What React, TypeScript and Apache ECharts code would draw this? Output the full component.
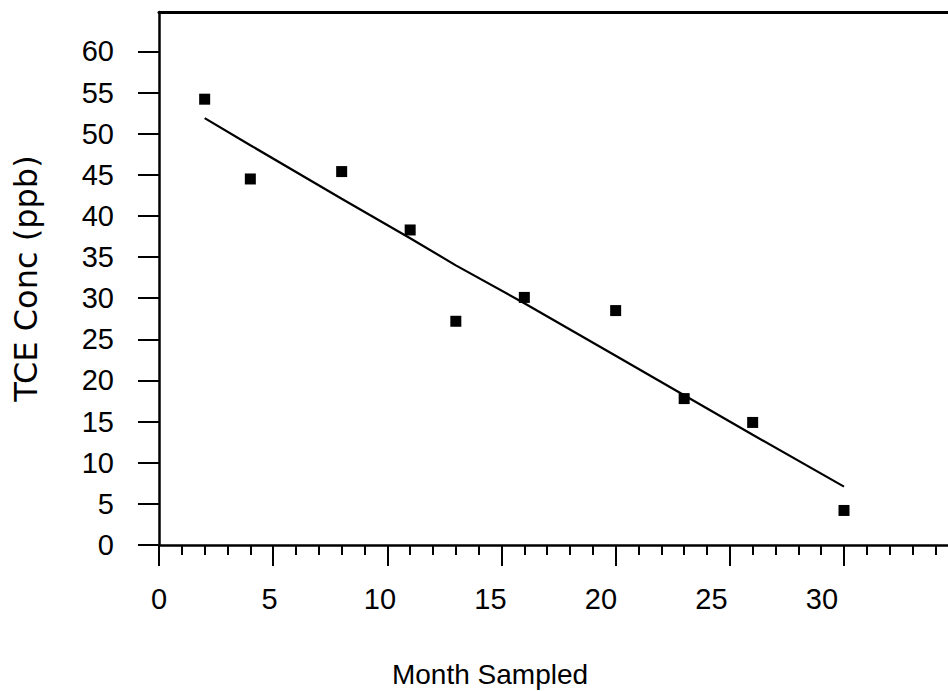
import React, { useEffect, useRef } from "react";
import * as echarts from "echarts";

// Months at which groundwater was sampled
const monthSampled = [2, 4, 8, 11, 13, 16, 20, 23, 26, 30];
// Measured TCE concentration (ppb) at each sampling month
const tceConc = [54.2, 44.5, 45.4, 38.3, 27.2, 30.1, 28.5, 17.8, 14.9, 4.2];
// Fitted trend line value at each sampling month
const trendConc = [51.9, 48.6, 42.1, 37.3, 34.0, 29.4, 23.0, 18.2, 13.4, 7.1];

const yTickValues = [0, 5, 10, 15, 20, 25, 30, 35, 40, 45, 50, 55, 60];
const xTickLabels = [0, 5, 10, 15, 20, 25, 30];

const LABEL_FONT = "'Liberation Sans', Arial, Helvetica, sans-serif";

// The plot frame runs past the right edge of the visible area, so the chart
// canvas is wider than the viewport and the overflow is hidden.
const VIEW_W = 948;
const VIEW_H = 691;
const CANVAS_W = 990;

export default function App() {
  const ref = useRef<HTMLDivElement>(null);

  useEffect(() => {
    if (!ref.current) return;
    const chart = echarts.init(ref.current, undefined, { renderer: "svg" });

    const black = "#000";

    chart.setOption({
      animation: false,
      backgroundColor: "#fff",
      title: {
        text: "Month Sampled",
        left: 490,
        top: 660,
        textAlign: "center",
        padding: 0,
        textStyle: {
          fontSize: 28,
          fontWeight: "normal",
          fontFamily: LABEL_FONT,
          color: black,
        },
      },
      grid: {
        left: 159,
        top: 12,
        right: 9,
        bottom: 146,
        show: false,
        containLabel: false,
      },
      xAxis: [
        {
          // ruler: axis line with major and minor ticks
          type: "value",
          min: 0,
          max: 36,
          interval: 5,
          position: "bottom",
          axisLine: { show: true, onZero: false, lineStyle: { color: black, width: 2.5 } },
          axisTick: { show: true, length: 21, lineStyle: { color: black, width: 2 } },
          minorTick: { show: true, splitNumber: 5, length: 10, lineStyle: { color: black, width: 2 } },
          axisLabel: { show: false },
          splitLine: { show: false },
          minorSplitLine: { show: false },
        },
        {
          // numeric labels along the bottom
          type: "value",
          min: 0,
          max: 37.2,
          position: "bottom",
          axisLine: { show: false },
          axisTick: { show: false },
          splitLine: { show: false },
          axisLabel: {
            show: true,
            customValues: xTickLabels,
            margin: 39,
            color: black,
            fontSize: 29,
            fontFamily: LABEL_FONT,
          },
        },
        {
          // top frame line
          type: "value",
          min: 0,
          max: 36,
          position: "top",
          axisLine: { show: true, onZero: false, lineStyle: { color: black, width: 3 } },
          axisTick: { show: false },
          axisLabel: { show: false },
          splitLine: { show: false },
        },
      ],
      yAxis: {
        type: "value",
        min: 0,
        max: 64.8,
        position: "left",
        name: "TCE Conc (ppb)",
        nameLocation: "middle",
        nameRotate: 90,
        nameGap: 117,
        nameTextStyle: {
          fontSize: 32,
          fontFamily: "'DejaVu Sans', sans-serif",
          color: black,
        },
        axisLine: { show: true, onZero: false, lineStyle: { color: black, width: 2.5 } },
        axisTick: {
          show: true,
          customValues: yTickValues,
          length: 21,
          lineStyle: { color: black, width: 2 },
        },
        axisLabel: {
          show: true,
          customValues: yTickValues,
          margin: 45,
          color: black,
          fontSize: 29,
          fontFamily: LABEL_FONT,
        },
        splitLine: { show: false },
      },
      series: [
        {
          name: "Trend",
          type: "line",
          xAxisIndex: 0,
          data: monthSampled.map((m, i) => [m, trendConc[i]]),
          symbol: "none",
          lineStyle: { color: black, width: 2.2 },
          z: 2,
        },
        {
          name: "TCE",
          type: "scatter",
          xAxisIndex: 0,
          data: monthSampled.map((m, i) => [m, tceConc[i]]),
          symbol: "rect",
          symbolSize: 11,
          itemStyle: { color: black, opacity: 1 },
          z: 3,
        },
      ],
    });

    return () => chart.dispose();
  }, []);

  return (
    <div
      style={{
        position: "absolute",
        left: 0,
        top: 0,
        width: VIEW_W,
        height: VIEW_H,
        overflow: "hidden",
        background: "#fff",
      }}
    >
      <div ref={ref} style={{ width: CANVAS_W, height: VIEW_H }} />
    </div>
  );
}
